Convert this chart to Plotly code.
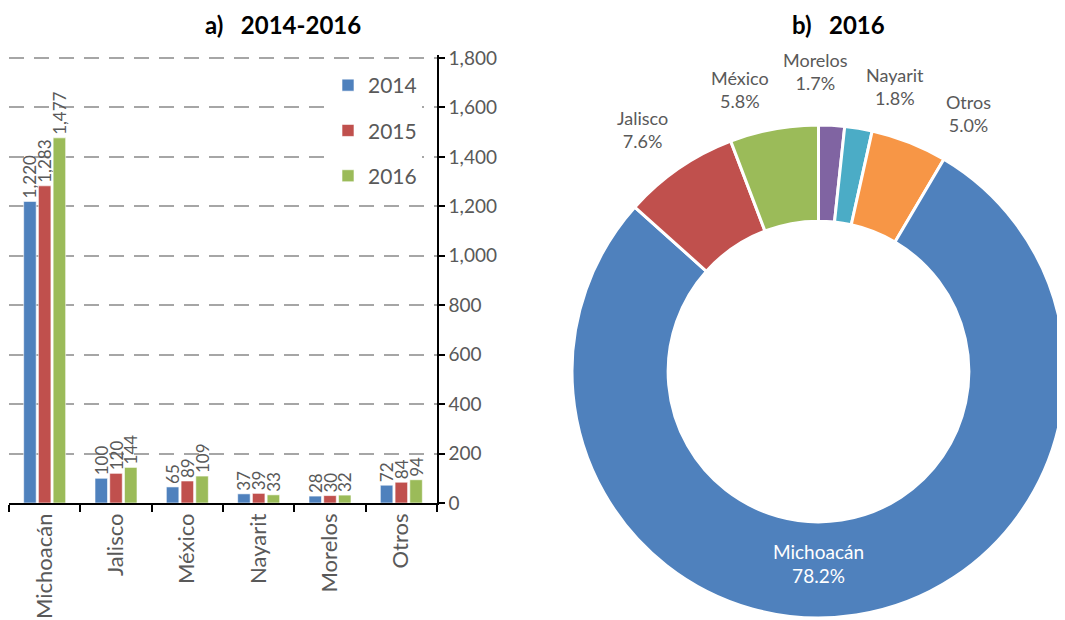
import plotly.graph_objects as go

states = ["Michoacán", "Jalisco", "México", "Nayarit", "Morelos", "Otros"]
v2014 = [1220, 100, 65, 37, 28, 72]
v2015 = [1283, 120, 89, 39, 30, 84]
v2016 = [1477, 144, 109, 33, 32, 94]
years = ["2014", "2015", "2016"]
bar_colors = ["#4F81BD", "#C0504D", "#9BBB59"]
y_ticks = [0, 200, 400, 600, 800, 1000, 1200, 1400, 1600, 1800]
y_max = 1812

pie_labels = ["Morelos", "Nayarit", "Otros", "Michoacán", "Jalisco", "México"]
pie_share = [1.7, 1.8, 5.0, 78.2, 7.6, 5.8]
pie_colors = ["#8064A2", "#4BACC6", "#F79646", "#4F81BD", "#C0504D", "#9BBB59"]

FONT = "Lato"
GREY = "#595959"
OFF = 8                      # page body margin
W, H = 1065 - OFF, 620 - OFF


def fx(sx):
    return (sx - OFF) / W


def fy(sy):
    return 1 - (sy - OFF) / H


# y axis: 0 at screen y=503, 1800 at screen y=58
px_per_unit = (503 - 58) / 1800
y_top_px = 503 - y_max * px_per_unit

# outside label placement for the doughnut (screen pixel centres, layout only)
outside_pos = {"Jalisco": (642, 130), "México": (740, 90), "Morelos": (815, 72),
               "Nayarit": (895, 87), "Otros": (968, 113)}

fig = go.Figure()
for i, (yr, vals) in enumerate(zip(years, [v2014, v2015, v2016])):
    fig.add_trace(go.Bar(
        x=states, y=vals, name=yr,
        marker=dict(color=bar_colors[i], line=dict(color="white", width=0.6)),
        text=[f"{v:,}" for v in vals], textposition="outside", textangle=-90,
        constraintext="none",
        textfont=dict(family=FONT, size=17, color=GREY),
        cliponaxis=False, legendgroup=yr,
        xaxis="x", yaxis="y",
    ))

pie_text = [f"{l}<br>{s:.1f}%" if l not in outside_pos else "" for l, s in zip(pie_labels, pie_share)]
fig.add_trace(go.Pie(
    labels=pie_labels, values=pie_share, sort=False, direction="clockwise",
    rotation=0, hole=0.61,
    marker=dict(colors=pie_colors, line=dict(color="white", width=3)),
    text=pie_text, textinfo="text", textposition="inside",
    insidetextorientation="horizontal",
    textfont=dict(family=FONT, size=19, color="white"),
    domain=dict(x=[fx(572), 1.0], y=[0.0, fy(123)]),
    showlegend=False,
))

annotations = [
    dict(text="<b>a)   2014-2016</b>", x=fx(283), y=1.0, xref="paper", yref="paper",
         showarrow=False, xanchor="center", yanchor="top",
         font=dict(family=FONT, size=24, color="black")),
    dict(text="<b>b)   2016</b>", x=fx(838), y=1.0, xref="paper", yref="paper",
         showarrow=False, xanchor="center", yanchor="top",
         font=dict(family=FONT, size=24, color="black")),
]
for l, s in zip(pie_labels, pie_share):
    if l in outside_pos:
        px, py = outside_pos[l]
        annotations.append(dict(text=f"{l}<br>{s:.1f}%", x=fx(px), y=fy(py),
                                xref="paper", yref="paper", showarrow=False,
                                xanchor="center", yanchor="middle", align="center",
                                font=dict(family=FONT, size=18, color=GREY)))

fig.update_layout(
    width=W, height=H,
    margin=dict(l=0, r=0, t=0, b=0),
    paper_bgcolor="white", plot_bgcolor="white",
    font=dict(family=FONT, color=GREY),
    barmode="group", bargap=0.38, bargroupgap=0.15,
    xaxis=dict(domain=[fx(9), fx(437)], showline=True, linecolor="black", linewidth=1.5,
               ticks="outside", tickson="boundaries", ticklen=7, tickcolor="black",
               tickwidth=1.5, tickangle=-90, automargin=False,
               tickfont=dict(family=FONT, size=22, color=GREY), showgrid=False),
    yaxis=dict(domain=[fy(503), fy(y_top_px)], range=[0, y_max], side="right",
               tickvals=y_ticks, tickformat=",", automargin=False,
               showline=True, linecolor="black", linewidth=1.5,
               ticks="outside", ticklen=6, tickcolor="black", tickwidth=1.5,
               tickfont=dict(family=FONT, size=19, color=GREY),
               showgrid=True, gridcolor="#A6A6A6", gridwidth=2, griddash="15px,10px",
               zeroline=False),
    legend=dict(x=fx(328), xanchor="left", y=fy(65), yanchor="top",
                bgcolor="white", font=dict(family=FONT, size=21, color=GREY),
                tracegroupgap=15, traceorder="grouped"),
    annotations=annotations,
)

fig.write_html("out.html")
